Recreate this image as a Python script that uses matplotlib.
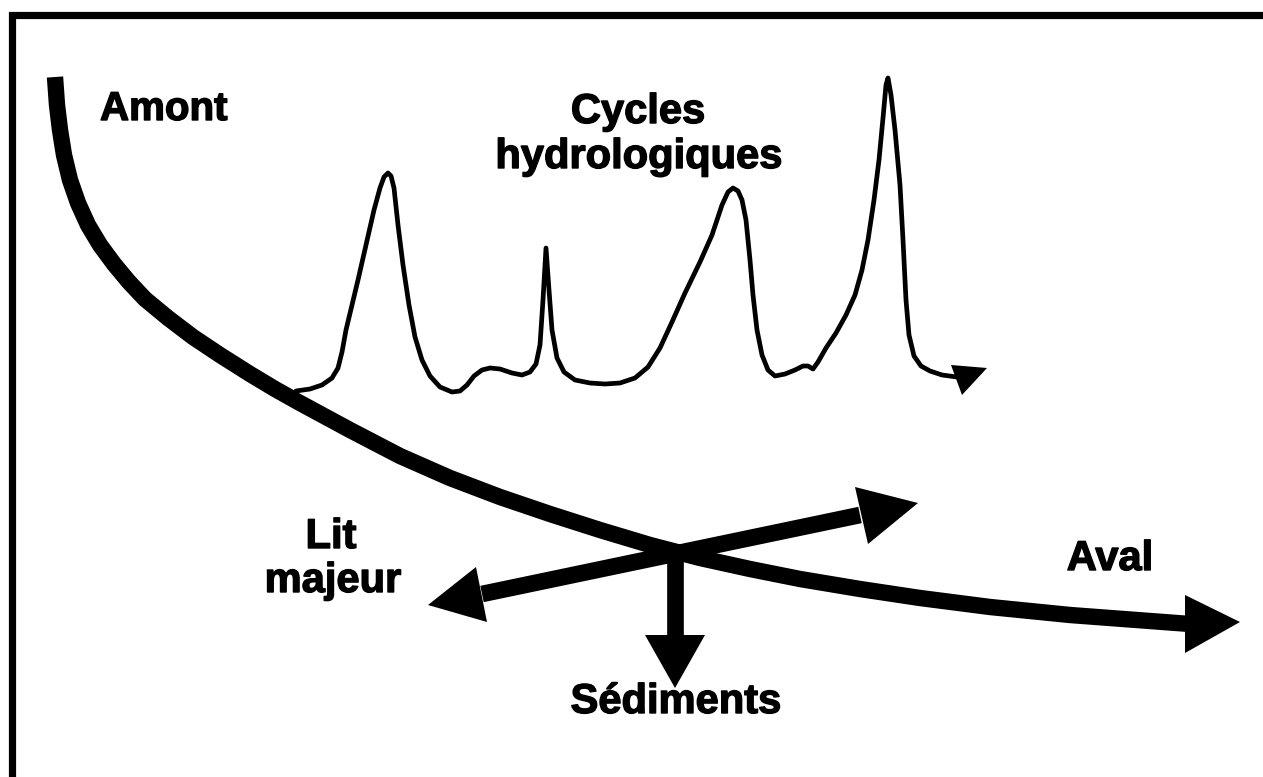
import matplotlib
matplotlib.use("Agg")
import matplotlib.pyplot as plt
import matplotlib.patheffects as pe

# river from Amont to Aval (pixel coords, y downwards)
riviere_x = [55, 57, 60, 64, 70, 78, 88, 100, 114, 129, 145, 168, 193, 220, 250,
             275, 300, 350, 400, 450, 500, 550, 600, 650, 700, 750, 800, 860,
             920, 990, 1070, 1150, 1190]
riviere_y = [77, 105, 130, 155, 180, 203, 225, 245, 264, 282, 299, 318, 337, 355,
             374, 389, 403, 430, 456, 478, 497, 514, 530, 545, 558, 569, 579, 589,
             598, 607, 615, 621, 624]
tete_aval = [(1185, 595), (1240, 622), (1185, 653)]

# hydrograph
hydro_x = [296, 310, 322, 332, 338, 342, 346, 352, 358, 366, 374, 380, 384, 388,
           391, 394, 398, 403, 409, 415, 422, 430, 440, 452, 460, 467, 474, 482,
           490, 500, 512, 522, 530, 536, 540, 543, 546, 549, 552, 557, 564, 575,
           590, 605, 620, 635, 648, 660, 672, 685, 700, 712, 722, 728, 733, 738,
           742, 746, 750, 753, 757, 762, 768, 775, 785, 795, 803, 808, 813, 818,
           826, 836, 846, 855, 862, 868, 874, 879, 883, 886, 888, 891, 895, 900,
           903, 906, 909, 914, 921, 930, 942, 957]
hydro_y = [391, 389, 385, 378, 368, 352, 330, 305, 280, 245, 210, 188, 177, 173,
           176, 188, 225, 265, 305, 337, 360, 376, 387, 392, 391, 385, 376, 370,
           368, 369, 373, 375, 372, 364, 345, 300, 248, 290, 330, 358, 372, 380,
           383, 384, 383, 378, 367, 348, 322, 293, 262, 235, 205, 192, 188, 191,
           200, 220, 260, 295, 330, 355, 370, 376, 374, 370, 366, 366, 369, 362,
           348, 333, 315, 295, 270, 240, 200, 160, 118, 85, 78, 95, 130, 185,
           240, 300, 335, 356, 366, 371, 375, 377]
tete_hydro = [(951, 365), (987, 368), (962, 395)]

# lit majeur (double arrow) and sediments
lit_x = [482, 860]
lit_y = [594, 515]
tete_lit_g = [(476, 567), (428, 605), (487, 622)]
tete_lit_d = [(855, 487), (918, 503), (868, 544)]
sed_x = [675, 675]
sed_y = [552, 637]
tete_sed = [(645, 635), (705, 635), (675, 688)]

# frame (top and left only)
cadre_x = [1263, 11.5, 11.5]
cadre_y = [15, 15, 777]

labels = [("Amont", 100, 120, "left", 29),
          ("Cycles", 638, 123, "center", 30),
          ("hydrologiques", 639, 168, "center", 30),
          ("Lit", 331, 548, "center", 30),
          ("majeur", 333, 592, "center", 30),
          ("Aval", 1110, 570, "center", 30),
          ("Sédiments", 676, 713, "center", 30)]


def main():
    fig = plt.figure(figsize=(12.63, 7.77), dpi=100)
    ax = fig.add_axes([0, 0, 1, 1])
    ax.set_xlim(0, 1263)
    ax.set_ylim(777, 0)
    ax.axis("off")

    ax.plot(cadre_x, cadre_y, color="black", lw=5.2, solid_joinstyle="miter")

    ax.plot(riviere_x, riviere_y, color="black", lw=11.8,
            solid_capstyle="butt", solid_joinstyle="round")
    ax.fill(*zip(*tete_aval), color="black", lw=0)

    ax.plot(hydro_x, hydro_y, color="black", lw=3.4,
            solid_capstyle="round", solid_joinstyle="round")
    ax.fill(*zip(*tete_hydro), color="black", lw=0)

    ax.plot(lit_x, lit_y, color="black", lw=12, solid_capstyle="butt")
    ax.fill(*zip(*tete_lit_g), color="black", lw=0)
    ax.fill(*zip(*tete_lit_d), color="black", lw=0)

    ax.plot(sed_x, sed_y, color="black", lw=12, solid_capstyle="butt")
    ax.fill(*zip(*tete_sed), color="black", lw=0)

    for txt, x, y, ha, fs in labels:
        ax.text(x, y, txt, ha=ha, va="baseline", fontsize=fs,
                fontweight="bold", family=["Liberation Sans", "DejaVu Sans"],
                path_effects=[pe.withStroke(linewidth=1.0, foreground="black")])

    fig.savefig("out.png", dpi=100, facecolor="white")


if __name__ == "__main__":
    main()
